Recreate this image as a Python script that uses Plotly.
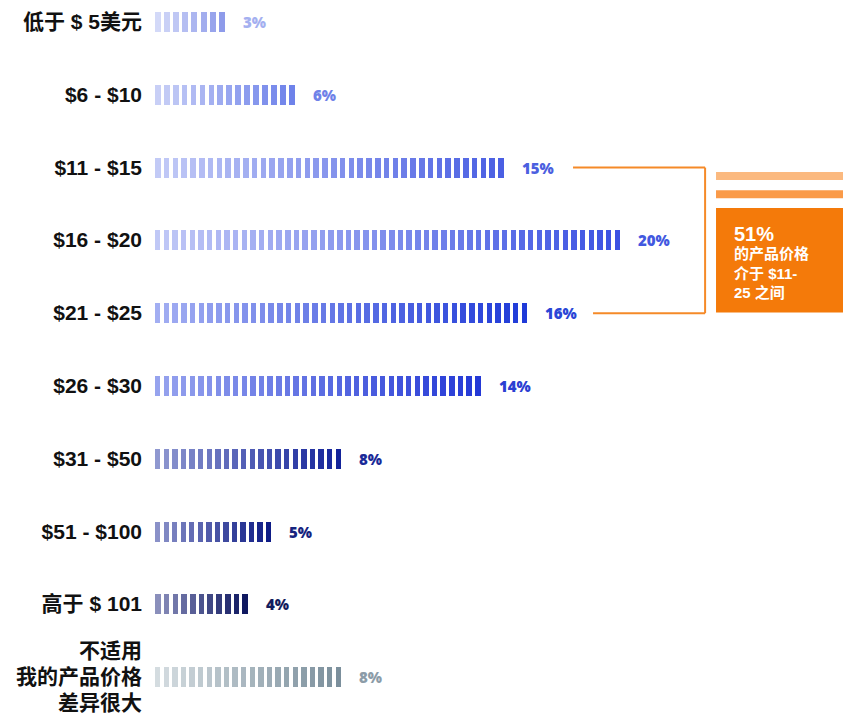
import plotly.graph_objects as go

# ---- data -------------------------------------------------------------
categories = [
    "低于 $ 5美元", "$6 - $10", "$11 - $15", "$16 - $20", "$21 - $25",
    "$26 - $30", "$31 - $50", "$51 - $100", "高于 $ 101",
    "不适用<br>我的产品价格<br>差异很大",
]
shares = [3, 6, 15, 20, 16, 14, 8, 5, 4, 8]
value_labels = ["3%", "6%", "15%", "20%", "16%", "14%", "8%", "5%", "4%", "8%"]

# gradient colours per row (light end -> dark end) and label colours
start_colors = ["#d3d9f8", "#c8cff6", "#c2caf6", "#c0c8f6", "#a2aef2",
                "#96a3ee", "#8f98d0", "#8a91c8", "#8a8fbb", "#d4dce0"]
end_colors = ["#8e9bea", "#6e82ea", "#4a5fe3", "#3c52e2", "#1f3ad8",
              "#2439d6", "#13239a", "#0e1c86", "#0f1860", "#7b8f9c"]
label_colors = ["#a4b0f0", "#6f82e8", "#4b60e0", "#4258e0", "#2a46d6",
                "#2b40d2", "#1a2a98", "#16247f", "#141d5e", "#8c9ca8"]

highlight_value = "51%"
highlight_text = "的产品价格<br>介于 $11-<br>25 之间"

# ---- styling helpers ----------------------------------------------------
SEG_PITCH = 0.376      # width of one stripe + gap, in percentage points
SEG_FILL = 0.63        # share of the pitch covered by the stripe
LATIN_FONT = "Arial"
CJK_FONT = "Noto Sans CJK SC"


def hex_to_rgb(h):
    h = h.lstrip("#")
    return tuple(int(h[i:i + 2], 16) for i in (0, 2, 4))


def mix(c0, c1, t):
    a, b = hex_to_rgb(c0), hex_to_rgb(c1)
    return "rgb({},{},{})".format(*[round(a[i] + (b[i] - a[i]) * t) for i in range(3)])


def is_cjk(ch):
    return "\u4e00" <= ch <= "\u9fff"


def styled_label(text):
    # Latin runs in an Arial-like face, CJK runs slightly larger
    out = []
    for line in text.split("<br>"):
        parts, run, run_cjk = [], "", None
        for ch in line + "\0":
            c = is_cjk(ch) if ch != "\0" else None
            if run and (c != run_cjk or ch == "\0"):
                if run_cjk:
                    parts.append("<span style='font-family:%s;font-size:21px'>%s</span>"
                                 % (CJK_FONT, run))
                else:
                    parts.append("<span style='font-family:%s;font-size:21px'>%s</span>"
                                 % (LATIN_FONT, run))
                run = ""
            if ch != "\0":
                run += ch
                run_cjk = c
        out.append("".join(parts))
    return "<br>".join(out)


# ---- striped bars: each bar is split into evenly spaced stripes ---------
seg_x, seg_base, seg_y, seg_col = [], [], [], []
for row, (val, c0, c1) in enumerate(zip(shares, start_colors, end_colors)):
    gap = SEG_PITCH * (1 - SEG_FILL)
    n = max(1, round((val + gap) / SEG_PITCH))
    pitch = (val + gap) / n
    width = pitch - gap
    for k in range(n):
        seg_base.append(k * pitch)
        seg_x.append(width)
        seg_y.append(row)
        seg_col.append(mix(c0, c1, k / max(1, n - 1)))

fig = go.Figure()
fig.add_trace(go.Bar(
    x=seg_x, base=seg_base, y=seg_y, orientation="h",
    width=0.275, marker=dict(color=seg_col, line=dict(width=0)),
    hoverinfo="skip", showlegend=False,
))

# value labels to the right of each bar
for row, (val, txt, col) in enumerate(zip(shares, value_labels, label_colors)):
    fig.add_annotation(
        x=val, y=row, text=txt, showarrow=False, xanchor="left",
        yanchor="middle", xshift=16,
        font=dict(family="Open Sans", size=15, color=col, weight=800),
    )

# ---- bracket grouping $11-$25 and the orange call-out -------------------
ORANGE_LINE = "#f58a28"
bx_top, bx_bottom, bx_vert = 17.98, 18.84, 23.66
fig.add_shape(type="line", x0=bx_top, x1=bx_vert, y0=2, y1=2,
              line=dict(color=ORANGE_LINE, width=2))
fig.add_shape(type="line", x0=bx_vert, x1=bx_vert, y0=2, y1=4,
              line=dict(color=ORANGE_LINE, width=2))
fig.add_shape(type="line", x0=bx_bottom, x1=bx_vert, y0=4, y1=4,
              line=dict(color=ORANGE_LINE, width=2))

box_x0 = 24.13
fig.add_shape(type="rect", xref="x", x0=box_x0, x1=31, y0=2.06, y1=2.17,
              fillcolor="#fbb97f", line=dict(width=0))
fig.add_shape(type="rect", xref="x", x0=box_x0, x1=31, y0=2.31, y1=2.42,
              fillcolor="#fa9a48", line=dict(width=0))
fig.add_shape(type="rect", xref="x", x0=box_x0, x1=31, y0=2.555, y1=3.99,
              fillcolor="#f47a0a", line=dict(width=0))

callout_font = LATIN_FONT + ", " + CJK_FONT
fig.add_annotation(
    x=box_x0, y=2.555, xanchor="left", yanchor="top", xshift=16, yshift=-13,
    text="<b>" + highlight_value + "</b>", showarrow=False, align="left",
    font=dict(family=callout_font, size=20, color="white"),
)
fig.add_annotation(
    x=box_x0, y=2.555, xanchor="left", yanchor="top", xshift=16, yshift=-35,
    text="<b>" + highlight_text + "</b>", showarrow=False, align="left",
    font=dict(family=callout_font, size=15, color="white"),
)

# ---- axes & layout -------------------------------------------------------
PX_PER_ROW = 72.8
top_edge = -22 / PX_PER_ROW
fig.update_yaxes(
    range=[top_edge + 713 / PX_PER_ROW, top_edge],
    tickvals=list(range(len(categories))),
    ticktext=[styled_label(c) for c in categories],
    showgrid=False, zeroline=False, showline=False, ticks="",
    ticklabelstandoff=12, ticklabeloverflow="allow", automargin=False,
    tickfont=dict(family=callout_font, size=20,
                  color="#111111", weight="bold"),
)
fig.update_xaxes(range=[0, 688 / 23.25], visible=False, automargin=False)
fig.update_layout(
    width=843, height=713,
    margin=dict(l=155, r=0, t=0, b=0, autoexpand=False),
    plot_bgcolor="white", paper_bgcolor="white",
    bargap=0, barmode="overlay",
)

fig.write_html("out.html")
